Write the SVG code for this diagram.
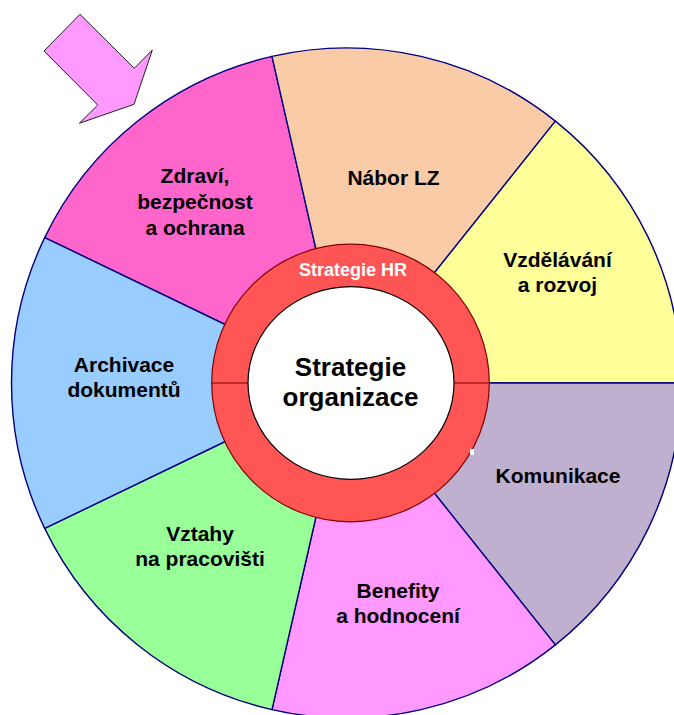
<svg xmlns="http://www.w3.org/2000/svg" width="674" height="715" viewBox="0 0 674 715">
<style>
.sec{stroke:#000080;stroke-width:1.4;stroke-linejoin:round}
.lbl{font-family:"Liberation Sans",Arial,sans-serif;font-weight:bold;font-size:21px;fill:#000;text-anchor:middle}
.ctr{font-family:"Liberation Sans",Arial,sans-serif;font-weight:bold;font-size:26px;fill:#000;text-anchor:middle}
.hr{font-family:"Liberation Sans",Arial,sans-serif;font-weight:bold;font-size:18px;fill:#fff;text-anchor:middle}
</style>
<rect width="674" height="715" fill="#fff"/>
<g id="zdravi">
<path class="sec" fill="#FF66CC" d="M346.5,383 L44.7,237.6 A335,335 0 0 1 272.0,56.4 Z"/>
<text class="lbl" x="195" y="183">Zdraví,</text>
<text class="lbl" x="195" y="209">bezpečnost</text>
<text class="lbl" x="195" y="235">a ochrana</text>
</g>
<g id="nabor">
<path class="sec" fill="#F9CBA7" d="M346.5,383 L272.0,56.4 A335,335 0 0 1 555.4,121.1 Z"/>
<text class="lbl" x="393.5" y="185">Nábor LZ</text>
</g>
<g id="vzdelavani">
<path class="sec" fill="#FFFF99" d="M346.5,383 L555.4,121.1 A335,335 0 0 1 681.5,383 Z"/>
<text class="lbl" x="557.5" y="266.5">Vzdělávání</text>
<text class="lbl" x="557.5" y="292">a rozvoj</text>
</g>
<g id="komunikace">
<path class="sec" fill="#BFB0D0" d="M346.5,383 L681.5,383 A335,335 0 0 1 555.4,644.9 Z"/>
<text class="lbl" x="558" y="482.5">Komunikace</text>
</g>
<g id="benefity">
<path class="sec" fill="#FF99FF" d="M346.5,383 L555.4,644.9 A335,335 0 0 1 272.0,709.6 Z"/>
<text class="lbl" x="398" y="597.5">Benefity</text>
<text class="lbl" x="398" y="623">a hodnocení</text>
</g>
<g id="vztahy">
<path class="sec" fill="#99FF99" d="M346.5,383 L272.0,709.6 A335,335 0 0 1 44.7,528.4 Z"/>
<text class="lbl" x="200" y="540.5">Vztahy</text>
<text class="lbl" x="200" y="566">na pracovišti</text>
</g>
<g id="archivace">
<path class="sec" fill="#99CCFF" d="M346.5,383 L44.7,528.4 A335,335 0 0 1 44.7,237.6 Z"/>
<text class="lbl" x="124" y="371.5">Archivace</text>
<text class="lbl" x="124" y="397">dokumentů</text>
</g>
<g id="strategie-hr">
<circle cx="350.5" cy="383" r="138.8" fill="#FF5555" stroke="#800000" stroke-width="1.2"/>
<line x1="211.7" y1="383" x2="248" y2="383" stroke="#800000" stroke-width="1.2"/>
<line x1="454" y1="383" x2="489.3" y2="383" stroke="#800000" stroke-width="1.2"/>
<text class="hr" x="353" y="275.5">Strategie HR</text>
<rect x="470" y="449" width="4" height="6" fill="#fff"/>
</g>
<g id="strategie-organizace">
<ellipse cx="351" cy="383" rx="103" ry="96.3" fill="#fff" stroke="#000" stroke-width="1.2"/>
<text class="ctr" x="350.5" y="376">Strategie</text>
<text class="ctr" x="350.5" y="406">organizace</text>
</g>
<g id="connectors">
<polygon points="80,14.3 134.3,68.3 152.3,50 134,104.3 79.3,123.3 97.7,105 44,51" fill="#FF99FF" stroke="#222" stroke-width="1"/>
</g>
</svg>
